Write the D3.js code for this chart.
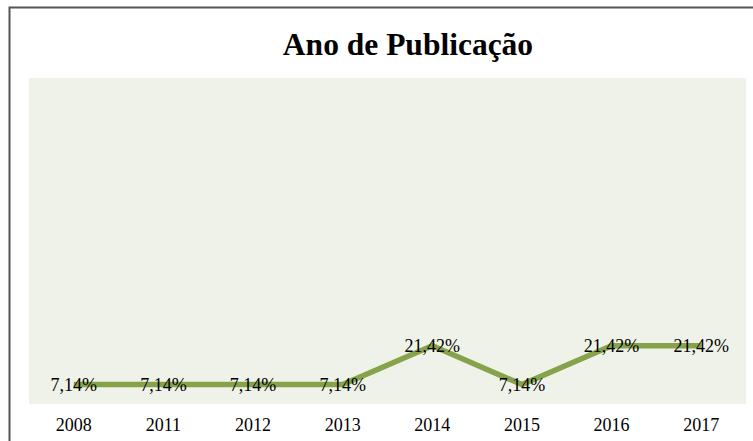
<!DOCTYPE html>
<html>
<head>
<meta charset="utf-8">
<script src="https://cdn.jsdelivr.net/npm/d3@7/dist/d3.min.js"></script>
<style>
  html, body { margin: 0; padding: 0; background: #fff; }
  svg { display: block; }
</style>
</head>
<body>
<div id="chart"></div>
<script>
// Données
const years = ["2008", "2011", "2012", "2013", "2014", "2015", "2016", "2017"]
const percents = [7.14, 7.14, 7.14, 7.14, 21.42, 7.14, 21.42, 21.42]
const title = "Ano de Publicação"

const W = 753, H = 441
// zone de tracé (fond vert pâle)
const plot = { left: 29, right: 746, top: 78, bottom: 404 }
const serif = "'Liberation Serif', 'Times New Roman', serif"

const svg = d3.select("#chart").append("svg")
  .attr("width", W).attr("height", H)

// cadre du graphique (seuls haut et gauche visibles)
svg.append("path")
  .attr("d", `M9.5,${H} V7.5 H${W}`)
  .attr("fill", "none")
  .attr("stroke", "#555")
  .attr("stroke-width", 2)

svg.append("rect")
  .attr("x", plot.left).attr("y", plot.top)
  .attr("width", plot.right - plot.left)
  .attr("height", plot.bottom - plot.top)
  .attr("fill", "#eff2e9")

svg.append("text")
  .attr("x", 408).attr("y", 55)
  .attr("text-anchor", "middle")
  .attr("font-family", serif)
  .attr("font-weight", "bold")
  .attr("font-size", 31.5)
  .attr("fill", "#000")
  .text(title)

const x = d3.scaleBand().domain(years).range([plot.left, plot.right])
const y = d3.scaleLinear().domain([0, 120]).range([plot.bottom, plot.top])

const xAxis = svg.append("g")
  .attr("transform", `translate(0,${plot.bottom})`)
  .call(d3.axisBottom(x).tickSize(0).tickPadding(14))
xAxis.select(".domain").remove()
xAxis.selectAll("text")
  .attr("font-family", serif)
  .attr("font-size", 18)
  .attr("fill", "#000")

const cx = d => x(d) + x.bandwidth() / 2

const line = d3.line()
  .x((_, i) => cx(years[i]))
  .y(d => y(d))

svg.append("path")
  .datum(percents)
  .attr("d", line)
  .attr("fill", "none")
  .attr("stroke", "#86a34b")
  .attr("stroke-width", 5.5)
  .attr("stroke-linejoin", "miter")

svg.selectAll("text.lbl")
  .data(percents)
  .join("text")
  .attr("class", "lbl")
  .attr("x", (_, i) => cx(years[i]))
  .attr("y", d => y(d))
  .attr("dy", "0.35em")
  .attr("text-anchor", "middle")
  .attr("font-family", serif)
  .attr("font-size", 18)
  .attr("fill", "#000")
  .text(d => d.toFixed(2).replace(".", ",") + "%")
</script>
</body>
</html>
